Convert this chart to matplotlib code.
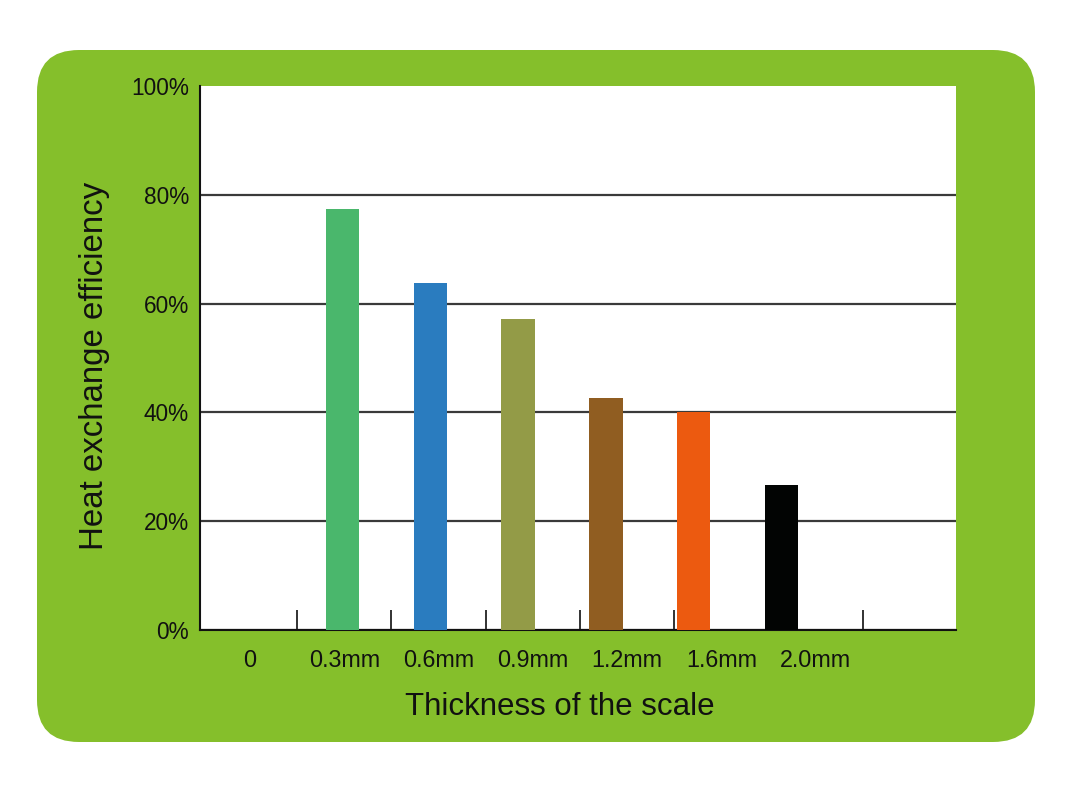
import matplotlib
matplotlib.use("Agg")
import matplotlib.pyplot as plt
from matplotlib.patches import FancyBboxPatch

categories = ["0", "0.3mm", "0.6mm", "0.9mm", "1.2mm", "1.6mm", "2.0mm"]
efficiency = [0, 77.4, 63.7, 57.2, 42.6, 40.0, 26.6]
bar_colors = ["#FFFFFF", "#4AB76C", "#2A7CBF", "#939B47", "#905D21", "#EC5A10", "#020403"]
y_ticks = [0, 20, 40, 60, 80, 100]
y_tick_labels = ["0%", "20%", "40%", "60%", "80%", "100%"]

FONT = ["Liberation Sans Narrow", "Liberation Sans", "DejaVu Sans"]
plt.rcParams["font.family"] = FONT

fig = plt.figure(figsize=(10.71, 8.0), dpi=100)
fig.patch.set_facecolor("white")

# green rounded panel
panel = FancyBboxPatch((0.37 + 0.42, 0.58 + 0.42), 9.98 - 0.84, 6.92 - 0.84,
                       boxstyle="round,pad=0.42", transform=fig.dpi_scale_trans,
                       facecolor="#85BF2B", edgecolor="none", zorder=0)
fig.add_artist(panel)

ax = fig.add_axes([200 / 1071, 1 - 630 / 800, 756 / 1071, 544 / 800])
ax.set_facecolor("white")
ax.set_ylim(0, 100)
ax.set_xlim(-0.530, 7.487)

# category labels and separator ticks
pos = list(range(len(categories)))
ax.set_xticks(pos)
ax.set_xticklabels(categories, fontsize=16.8, color="#111111")
ax.set_xticks([p + 0.5 for p in pos], minor=True)
ax.tick_params(axis="x", which="major", length=0, pad=14)
ax.tick_params(axis="x", which="minor", direction="in", length=14.5, width=1.3, color="#222222")
ax.set_yticks(y_ticks)
ax.set_yticklabels(y_tick_labels, fontsize=16.3, color="#111111")
ax.tick_params(axis="y", length=0, pad=8)

ax.grid(axis="y", color="#3a3a3a", linewidth=1.6)
ax.yaxis.get_gridlines()[-1].set_visible(False)
ax.set_axisbelow(True)
for s in ["top", "right"]:
    ax.spines[s].set_visible(False)
for s in ["left", "bottom"]:
    ax.spines[s].set_color("#111111")
    ax.spines[s].set_linewidth(1.5)

# bars on a twin x-axis (bars are spaced slightly tighter than labels)
axb = ax.twiny()
axb.set_xlim(-0.623, 7.987)
axb.bar(pos[1:], efficiency[1:], width=0.38, color=bar_colors[1:], zorder=3)
axb.set_xticks([])
for s in axb.spines.values():
    s.set_visible(False)

fig.text(560 / 1071, 1 - 707 / 800, "Thickness of the scale", fontsize=22.5,
         ha="center", va="center", color="#111111")
fig.text(95 / 1071, 1 - 366 / 800, "Heat exchange efficiency", fontsize=23.8,
         rotation=90, ha="center", va="center", color="#111111")

fig.savefig("out.png", dpi=100, facecolor="white")
